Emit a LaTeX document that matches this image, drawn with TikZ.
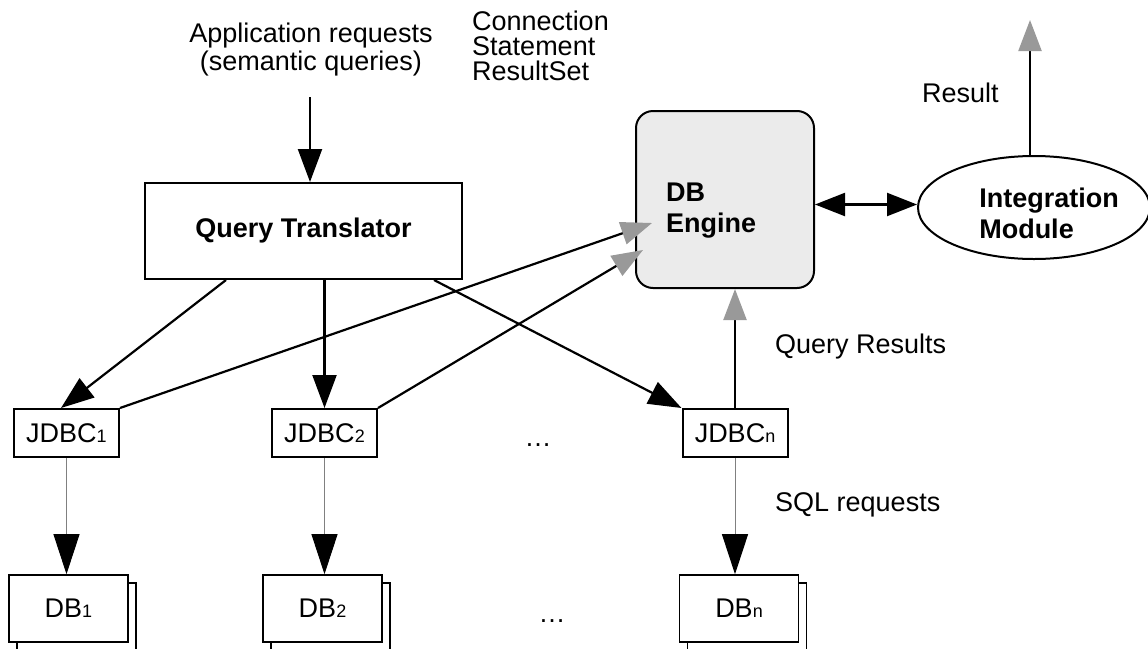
\documentclass[tikz,border=0pt]{standalone}
\usepackage{fontspec}
\setmainfont{Liberation Sans}
\usetikzlibrary{arrows.meta,shapes.geometric,calc}
\definecolor{enginefill}{HTML}{EBEBEB}
\definecolor{tipgray}{HTML}{999999}
\newcommand{\sub}[1]{{\fontsize{18}{18}\selectfont #1}}
\begin{document}
\begin{tikzpicture}[x=1pt,y=-1pt,
  every node/.style={font=\fontsize{27}{25}\selectfont, inner sep=0pt},
  box/.style={draw, line width=2pt, fill=white},
  jdbc/.style={box, minimum width=105pt, minimum height=48pt},
  dbbox/.style={draw, line width=1.6pt, fill=white, minimum width=119pt, minimum height=67pt},
  conn/.style={line width=2.2pt, -{Triangle[length=33pt,width=24pt]}},
  back/.style={line width=2.2pt, -{Triangle[length=31pt,width=23pt,color=tipgray]}},
  thin/.style={draw=gray, line width=1pt, -{Triangle[length=40pt,width=26pt,color=black]}},
  label/.style={anchor=west, align=left}
]
\useasboundingbox (0,0) rectangle (1148,648);
\clip (0,0) rectangle (1148,648);

% labels
\node[align=center, font=\fontsize{27}{28}\selectfont] (app) at (311,50) {Application requests\\(semantic queries)};
\node[label] (api) at (472,46) {Connection\\Statement\\ResultSet};
\node[label] (res) at (922,93) {Result};
\node[label] (qres) at (775,347) {Query Results};
\node[label] (sql) at (775,505) {SQL requests};

% main boxes
\node[box, minimum width=317pt, minimum height=96pt, font=\fontsize{27}{25}\selectfont\bfseries]
  (qt) at (303.5,231) {Query Translator};
\node[box, fill=enginefill, rounded corners=17pt, minimum width=178pt, minimum height=177pt]
  (eng) at (725,199.5) {};
\node[align=left, font=\fontsize{27}{31}\selectfont\bfseries] (engtxt) at (711,211) {DB\\Engine};
\node[draw, ellipse, line width=2pt, fill=white, minimum width=232pt, minimum height=103pt]
  (ell) at (1034,207.5) {};
\node[align=left, font=\fontsize{27}{31}\selectfont\bfseries] (elltxt) at (1049,213) {Integration\\Module};

% drivers
\node[jdbc] (j1) at (66.5,433) {JDBC\sub{1}};
\node[jdbc] (j2) at (324.5,433) {JDBC\sub{2}};
\node[jdbc] (jn) at (735,433) {JDBC\sub{n}};
\node (jdots) at (538,445) {\dots};

% databases (each drawn as two stacked sheets)
\node[dbbox] (d1b) at (76.5,616.5) {};
\node[dbbox] (d1) at (68.5,608.5) {DB\sub{1}};
\node[dbbox] (d2b) at (330.5,616.5) {};
\node[dbbox] (d2) at (322.5,608.5) {DB\sub{2}};
\node[dbbox] (dnb) at (747,616.5) {};
\node[dbbox] (dn) at (739,608.5) {DB\sub{n}};
\node (ddots) at (552,621) {\dots};

% connector ends
\coordinate (appin) at (310,97);
\coordinate (tip1) at (652,223);
\coordinate (tip2) at (643,250);
\coordinate (restip) at (1030,20);

% requests
\draw[conn] (appin) -- (appin |- qt.north);
\draw[conn] ([xshift=82pt]qt.south west) -- ([xshift=-5.5pt]j1.north);
\draw[conn] (j2.north |- qt.south) -- (j2.north);
\draw[conn] ([xshift=-29pt]qt.south east) -- (jn.north west);

% results
\draw[back] (j1.north east) -- (tip1);
\draw[back] (j2.north east) -- (tip2);
\draw[back] (jn.north) -- (jn.north |- eng.south);
\draw[back] (restip |- ell.north) -- (restip);
\draw[line width=2.2pt, {Triangle[length=30pt,width=23pt]}-{Triangle[length=30pt,width=23pt]}]
  ([yshift=-5pt]eng.east) -- ([yshift=-5pt]eng.east -| ell.west);

% SQL
\draw[thin] (j1.south) -- (j1.south |- d1.north);
\draw[thin] (j2.south) -- (j2.south |- d2.north);
\draw[thin] (jn.south) -- (jn.south |- dn.north);
\end{tikzpicture}
\end{document}
